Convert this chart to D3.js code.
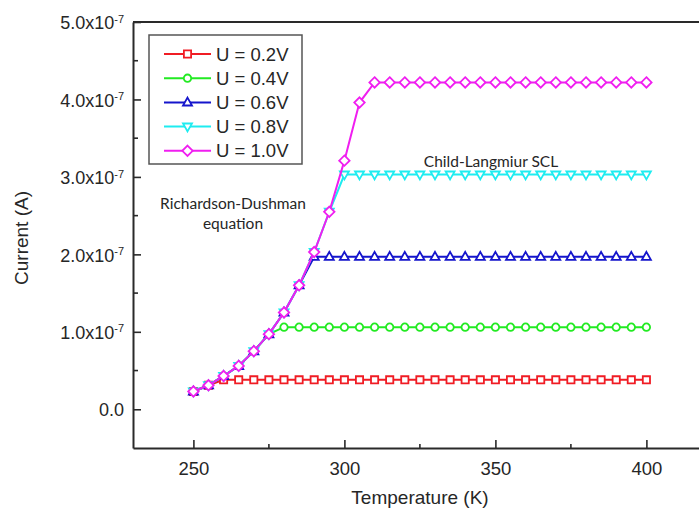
<!DOCTYPE html>
<html>
<head>
<meta charset="utf-8">
<script src="https://cdn.jsdelivr.net/npm/d3@7"></script>
<style>
  body { margin: 0; background: #fff; }
  text { font-family: Arial, "Liberation Sans", sans-serif; fill: #262626; }
</style>
</head>
<body>
<svg id="chart" width="699" height="518"></svg>
<script>
// temperatures (K)
const temperatures = [
  250, 255, 260, 265, 270, 275, 280, 285, 290, 295,
  300, 305, 310, 315, 320, 325, 330, 335, 340, 345,
  350, 355, 360, 365, 370, 375, 380, 385, 390, 395,
  400,
];

// currents, in units of 1e-7 A
const current02 = [
  0.23, 0.31, 0.38, 0.38, 0.38, 0.38, 0.38, 0.38, 0.38, 0.38,
  0.38, 0.38, 0.38, 0.38, 0.38, 0.38, 0.38, 0.38, 0.38, 0.38,
  0.38, 0.38, 0.38, 0.38, 0.38, 0.38, 0.38, 0.38, 0.38, 0.38,
  0.38,
];
const current04 = [
  0.23, 0.31, 0.43, 0.56, 0.75, 0.97, 1.06, 1.06, 1.06, 1.06,
  1.06, 1.06, 1.06, 1.06, 1.06, 1.06, 1.06, 1.06, 1.06, 1.06,
  1.06, 1.06, 1.06, 1.06, 1.06, 1.06, 1.06, 1.06, 1.06, 1.06,
  1.06,
];
const current06 = [
  0.23, 0.31, 0.43, 0.56, 0.75, 0.97, 1.25, 1.60, 1.97, 1.97,
  1.97, 1.97, 1.97, 1.97, 1.97, 1.97, 1.97, 1.97, 1.97, 1.97,
  1.97, 1.97, 1.97, 1.97, 1.97, 1.97, 1.97, 1.97, 1.97, 1.97,
  1.97,
];
const current08 = [
  0.23, 0.31, 0.43, 0.56, 0.75, 0.97, 1.25, 1.60, 2.03, 2.55,
  3.03, 3.03, 3.03, 3.03, 3.03, 3.03, 3.03, 3.03, 3.03, 3.03,
  3.03, 3.03, 3.03, 3.03, 3.03, 3.03, 3.03, 3.03, 3.03, 3.03,
  3.03,
];
const current10 = [
  0.23, 0.31, 0.43, 0.56, 0.75, 0.97, 1.25, 1.60, 2.03, 2.55,
  3.21, 3.96, 4.22, 4.22, 4.22, 4.22, 4.22, 4.22, 4.22, 4.22,
  4.22, 4.22, 4.22, 4.22, 4.22, 4.22, 4.22, 4.22, 4.22, 4.22,
  4.22,
];

const seriesNames = ['U = 0.2V', 'U = 0.4V', 'U = 0.6V', 'U = 0.8V', 'U = 1.0V'];
const seriesValues = [current02, current04, current06, current08, current10];

const xTicks = [250, 300, 350, 400];
const xMinorTicks = [275, 325, 375];
const yTicks = [0, 1, 2, 3, 4, 5];
const yMinorTicks = [0.5, 1.5, 2.5, 3.5, 4.5];

const colors = ['#f01c24', '#22ea22', '#1515cc', '#1eecf0', '#f01ef0'];
const markers = ['square', 'circle', 'triangleUp', 'triangleDown', 'diamond'];

const margin = { top: 22, left: 133, bottom: 70 };
const width = 604;
const height = 518 - margin.top - margin.bottom;

const svg = d3.select('#chart');

const x = d3.scaleLinear().domain([230, 430]).range([margin.left, margin.left + width]);
const y = d3.scaleLinear().domain([-0.5, 5.0]).range([margin.top + height, margin.top]);

function markerPath(type) {
  const p = d3.path();
  if (type === 'square') {
    p.rect(-3.6, -3.6, 7.2, 7.2);
  } else if (type === 'circle') {
    p.moveTo(3.7, 0);
    p.arc(0, 0, 3.7, 0, Math.PI * 2);
  } else if (type === 'triangleUp') {
    p.moveTo(0, -4.8); p.lineTo(4.5, 3.1); p.lineTo(-4.5, 3.1); p.closePath();
  } else if (type === 'triangleDown') {
    p.moveTo(0, 4.8); p.lineTo(4.5, -3.1); p.lineTo(-4.5, -3.1); p.closePath();
  } else {
    p.moveTo(0, -5.2); p.lineTo(5.2, 0); p.lineTo(0, 5.2); p.lineTo(-5.2, 0); p.closePath();
  }
  return p.toString();
}

// frame (top line)
svg.append('line')
  .attr('x1', x.range()[0]).attr('x2', x.range()[1])
  .attr('y1', y.range()[1]).attr('y2', y.range()[1])
  .attr('stroke', '#2a2a2a').attr('stroke-width', 2);

// x axis
const xAxis = svg.append('g')
  .attr('transform', `translate(0, ${y.range()[0]})`)
  .call(d3.axisBottom(x).tickValues(xTicks).tickSizeInner(-8).tickSizeOuter(0).tickPadding(14));
xAxis.attr('font-family', null);
xAxis.select('.domain').attr('stroke', '#2a2a2a').attr('stroke-width', 2);
xAxis.selectAll('.tick line').attr('stroke', '#2a2a2a').attr('stroke-width', 1.6);
xAxis.selectAll('.tick text').style('font-size', '18.5px').attr('fill', null);

svg.append('g').selectAll('line')
  .data(xMinorTicks)
  .join('line')
  .attr('x1', d => x(d)).attr('x2', d => x(d))
  .attr('y1', y.range()[0]).attr('y2', y.range()[0] - 4)
  .attr('stroke', '#2a2a2a').attr('stroke-width', 1.6);

// y axis
const yAxis = svg.append('g')
  .attr('transform', `translate(${x.range()[0]}, 0)`)
  .call(d3.axisLeft(y).tickValues(yTicks).tickSizeInner(-8).tickSizeOuter(0).tickFormat(''));
yAxis.select('.domain').attr('stroke', '#2a2a2a').attr('stroke-width', 2);
yAxis.selectAll('.tick line').attr('stroke', '#2a2a2a').attr('stroke-width', 1.6);
yAxis.selectAll('.tick text').remove();

svg.append('g').selectAll('line')
  .data(yMinorTicks)
  .join('line')
  .attr('x1', x.range()[0]).attr('x2', x.range()[0] + 5)
  .attr('y1', d => y(d)).attr('y2', d => y(d))
  .attr('stroke', '#2a2a2a').attr('stroke-width', 1.6);

const yLabels = svg.append('g').selectAll('text')
  .data(yTicks)
  .join('text')
  .attr('x', x.range()[0] - 9)
  .attr('y', d => y(d))
  .attr('dy', '0.4em')
  .attr('text-anchor', 'end')
  .style('font-size', '18px');
yLabels.each(function (d) {
  const t = d3.select(this);
  if (d === 0) {
    t.text('0.0');
  } else {
    t.append('tspan').text(`${d.toFixed(1)}x10`);
    t.append('tspan').attr('dy', '-0.6em').style('font-size', '11px').text('-7');
  }
});

// axis titles
svg.append('text')
  .attr('transform', `translate(28, 238) rotate(-90)`)
  .attr('text-anchor', 'middle')
  .style('font-size', '19px')
  .text('Current (A)');

svg.append('text')
  .attr('x', 420).attr('y', 504)
  .attr('text-anchor', 'middle')
  .style('font-size', '19px')
  .text('Temperature (K)');

// series
const line = d3.line()
  .x((d, i) => x(temperatures[i]))
  .y(d => y(d));

seriesValues.forEach((vals, s) => {
  const g = svg.append('g');
  g.append('path')
    .attr('d', line(vals))
    .attr('fill', 'none')
    .attr('stroke', colors[s])
    .attr('stroke-width', 2);
  g.selectAll('path.marker')
    .data(vals)
    .join('path')
    .attr('class', 'marker')
    .attr('d', markerPath(markers[s]))
    .attr('transform', (d, i) => `translate(${x(temperatures[i])}, ${y(d)})`)
    .attr('fill', '#fff')
    .attr('stroke', colors[s])
    .attr('stroke-width', 1.8);
});

// annotations
const noteFont = 'Lato, "Open Sans", sans-serif';
svg.append('text')
  .attr('x', 233).attr('y', 209)
  .attr('text-anchor', 'middle')
  .style('font-family', noteFont)
  .style('font-size', '15.5px')
  .text('Richardson-Dushman');
svg.append('text')
  .attr('x', 233).attr('y', 229)
  .attr('text-anchor', 'middle')
  .style('font-family', noteFont)
  .style('font-size', '15.5px')
  .text('equation');
svg.append('text')
  .attr('x', 491).attr('y', 167)
  .attr('text-anchor', 'middle')
  .style('font-family', noteFont)
  .style('font-size', '15.5px')
  .text('Child-Langmiur SCL');

// legend
const legend = svg.append('g').attr('transform', 'translate(149, 35)');
legend.append('rect')
  .attr('width', 153).attr('height', 129)
  .attr('fill', '#fff')
  .attr('stroke', '#555').attr('stroke-width', 1.5);

const rows = legend.selectAll('g.row')
  .data(seriesNames)
  .join('g')
  .attr('class', 'row')
  .attr('transform', (d, i) => `translate(0, ${19 + i * 24.2})`);
rows.append('line')
  .attr('x1', 15).attr('x2', 62)
  .attr('stroke', (d, i) => colors[i]).attr('stroke-width', 2);
rows.append('path')
  .attr('d', (d, i) => markerPath(markers[i]))
  .attr('transform', 'translate(38.5, 0)')
  .attr('fill', '#fff')
  .attr('stroke', (d, i) => colors[i]).attr('stroke-width', 1.8);
rows.append('text')
  .attr('x', 67).attr('dy', '0.36em')
  .style('font-size', '18.5px')
  .text(d => d);
</script>
</body>
</html>
